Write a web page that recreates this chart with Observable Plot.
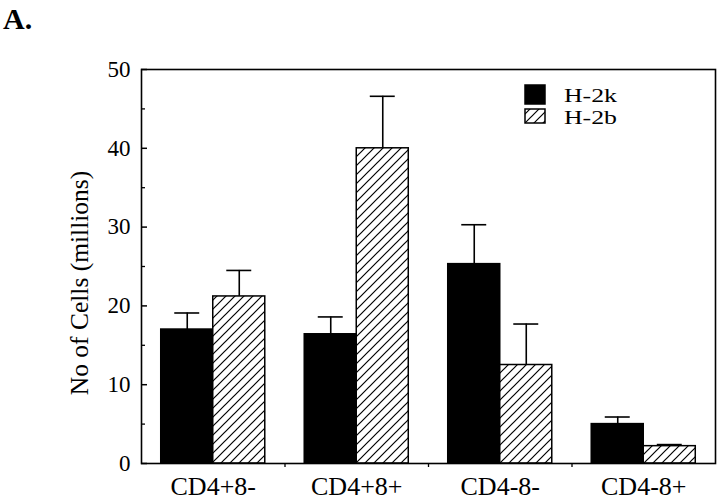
<!DOCTYPE html>
<html><head><meta charset="utf-8">
<script src="https://cdn.jsdelivr.net/npm/d3@7"></script>
<script src="https://cdn.jsdelivr.net/npm/@observablehq/plot@0.6"></script>
<style>
body{margin:0;background:#fff;}
#wrap{position:relative;width:720px;height:503px;background:#fff;}
#title{position:absolute;left:3px;top:4px;font:bold 30px "Liberation Serif",serif;color:#000;line-height:1;z-index:2;}
</style></head><body>
<div id="wrap"><div id="title">A.</div></div>
<script>
// ---- data ----
const categories = ["CD4+8-", "CD4+8+", "CD4-8-", "CD4-8+"];
const series = ["H-2k", "H-2b"];
const h2k = [17.0, 16.4, 25.3, 5.0];
const h2kErr = [2.1, 2.2, 5.0, 0.9];
const h2b = [21.2, 40.0, 12.5, 2.2];
const h2bErr = [3.3, 6.6, 5.2, 0.2];
const yMajorTicks = [0, 10, 20, 30, 40, 50];
const yMinorTicks = [5, 15, 25, 35, 45];
const yLabel = "No of Cells (millions)";

// ---- layout within each category band (fractions of the band) ----
const gapFrac = 0.1375, barFrac = 0.3625, capHalf = 0.087;

const table = [];
categories.forEach((c, i) => {
  table.push({cat: c, i, s: series[0], x1: i + gapFrac, x2: i + gapFrac + barFrac, v: h2k[i], e: h2kErr[i]});
  table.push({cat: c, i, s: series[1], x1: i + gapFrac + barFrac, x2: i + gapFrac + 2 * barFrac, v: h2b[i], e: h2bErr[i]});
});
table.forEach(d => { d.xc = (d.x1 + d.x2) / 2; d.top = d.v + d.e; });
const fills = {"H-2k": "black", "H-2b": "url(#hatch)"};

const font = "'Liberation Serif', 'Times New Roman', serif";

const plot = Plot.plot({
  width: 720,
  height: 503,
  marginLeft: 141,
  marginRight: 5,
  marginTop: 69,
  marginBottom: 40,
  style: {fontFamily: font, fontSize: "23px", color: "black", background: "transparent"},
  x: {domain: [0, categories.length], axis: null},
  y: {domain: [0, 50], axis: null},
  marks: [
    Plot.ruleX(table, {x: "xc", y1: "v", y2: "top", stroke: "black", strokeWidth: 1.6}),
    Plot.ruleY(table, {y: "top", x1: d => d.xc - capHalf, x2: d => d.xc + capHalf, stroke: "black", strokeWidth: 1.6}),
    Plot.rectY(table, {x1: "x1", x2: "x2", y: "v", fill: d => fills[d.s], stroke: "black", strokeWidth: 1.5}),
    Plot.frame({stroke: "black", strokeWidth: 1.6}),
    Plot.axisY(yMajorTicks, {tickSize: -6, tickFormat: () => "", strokeWidth: 1.5, label: null}),
    Plot.axisY(yMinorTicks, {tickSize: -4, tickFormat: () => "", strokeWidth: 1.3, label: null}),
    Plot.axisY(yMajorTicks, {tickSize: 0, tickPadding: 11, fontSize: 23, label: null}),
    Plot.axisX([1, 2, 3], {tickSize: 4, tickFormat: () => "", strokeWidth: 1.3, label: null}),
    Plot.axisX(categories.map((c, i) => i + 0.5), {tickSize: 0, tickPadding: 13, fontSize: 26,
      tickFormat: d => categories[Math.floor(d)], label: null})
  ]
});

const svg = d3.select(plot);
const defs = svg.insert("defs", ":first-child");
const pat = defs.append("pattern").attr("id", "hatch").attr("patternUnits", "userSpaceOnUse")
  .attr("width", 9).attr("height", 9);
pat.append("rect").attr("width", 9).attr("height", 9).attr("fill", "white");
pat.append("path").attr("d", "M-1,1 L1,-1 M0,9 L9,0 M8,10 L10,8")
  .attr("stroke", "black").attr("stroke-width", 1.2);

// y-axis title
svg.append("text")
  .attr("transform", "translate(88,283) rotate(-90)")
  .attr("text-anchor", "middle")
  .attr("font-family", font).attr("font-size", 25.5).attr("fill", "black")
  .text(yLabel);

// legend (inside plot, top-right)
const lg = svg.append("g").attr("font-family", font).attr("font-size", 19.5).attr("text-anchor", "start");
const legendItems = [
  {s: series[0], y: 85, h: 19, ty: 102},
  {s: series[1], y: 109, h: 14, ty: 124}
];
legendItems.forEach(it => {
  lg.append("rect").attr("x", 525).attr("y", it.y).attr("width", 20).attr("height", it.h)
    .attr("fill", fills[it.s]).attr("stroke", "black").attr("stroke-width", 1.5);
  lg.append("text").attr("x", 564).attr("y", it.ty).attr("fill", "black").attr("text-anchor", "start")
    .attr("textLength", 53).attr("lengthAdjust", "spacingAndGlyphs").text(it.s);
});

document.getElementById("wrap").appendChild(plot);
plot.style.position = "absolute";
plot.style.left = "0";
plot.style.top = "0";
</script>
</body></html>
